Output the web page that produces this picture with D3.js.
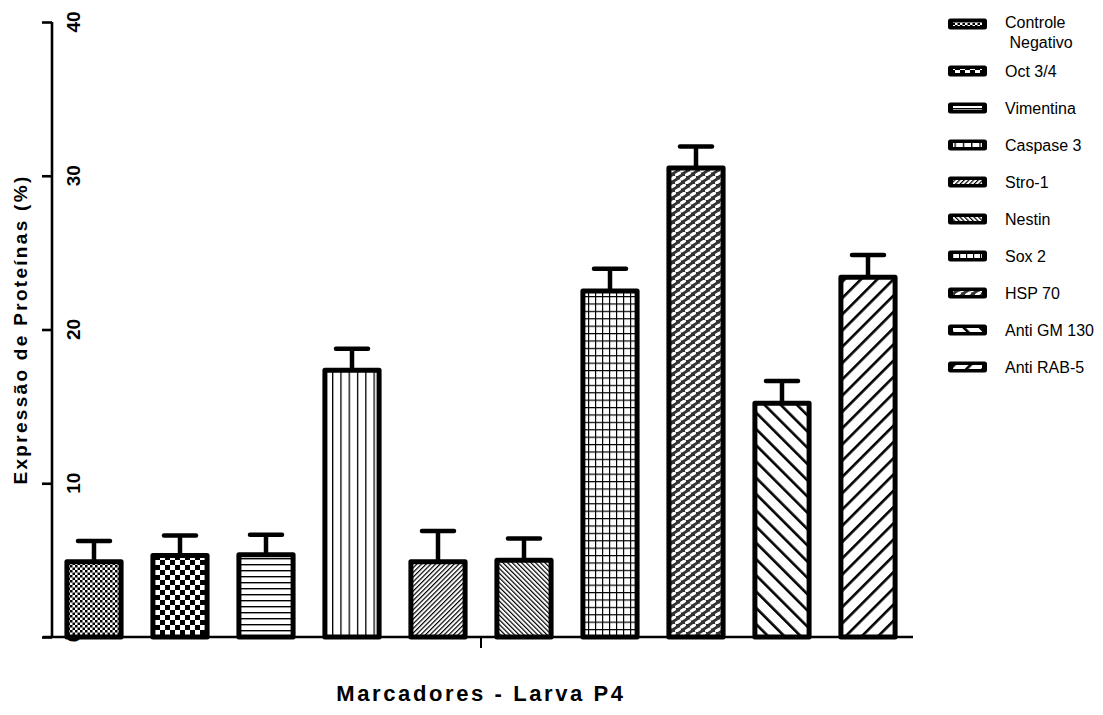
<!DOCTYPE html>
<html>
<head>
<meta charset="utf-8">
<script src="https://cdn.jsdelivr.net/npm/d3@7"></script>
<style>
  html, body { margin: 0; padding: 0; background: #fff; }
  svg { display: block; }
</style>
</head>
<body>
<svg id="chart" width="1103" height="715"></svg>
<script>
// Protein expression by marker, larva P4 (mean and SEM, %)
const categories = ["Controle Negativo", "Oct 3/4", "Vimentina", "Caspase 3", "Stro-1",
                    "Nestin", "Sox 2", "HSP 70", "Anti GM 130", "Anti RAB-5"];
const meanValues = [4.9, 5.3, 5.35, 17.35, 4.9, 5.0, 22.5, 30.5, 15.2, 23.4];
const semValues  = [1.35, 1.3, 1.3, 1.4, 2.0, 1.4, 1.45, 1.4, 1.45, 1.45];
const legendLines = [["Controle", " Negativo"], ["Oct 3/4"], ["Vimentina"], ["Caspase 3"], ["Stro-1"],
                     ["Nestin"], ["Sox 2"], ["HSP 70"], ["Anti GM 130"], ["Anti RAB-5"]];
const yTicks = [0, 10, 20, 30, 40];

const svg = d3.select("#chart");
const FONT = "'Liberation Sans', Arial, Helvetica, sans-serif";

const x = d3.scaleBand().domain(categories).range([51, 911]).paddingInner(0.37).paddingOuter(0.185);
const y = d3.scaleLinear().domain([0, 40]).range([637, 22]);

// ---------- hatch patterns, one per marker ----------
const defs = svg.append("defs");
function pat(id, w, h, rotate, bg) {
  const p = defs.append("pattern").attr("id", id).attr("patternUnits", "userSpaceOnUse")
    .attr("width", w).attr("height", h);
  if (rotate) p.attr("patternTransform", `rotate(${rotate})`);
  p.append("rect").attr("width", w).attr("height", h).attr("fill", bg || "#fff");
  return p;
}
// fine checkerboard
let p = pat("p0", 5, 5);
p.append("rect").attr("width", 2.5).attr("height", 2.5).attr("fill", "#000");
p.append("rect").attr("x", 2.5).attr("y", 2.5).attr("width", 2.5).attr("height", 2.5).attr("fill", "#000");
// coarse checkerboard
p = pat("p1", 10, 10);
p.append("rect").attr("width", 5).attr("height", 5).attr("fill", "#000");
p.append("rect").attr("x", 5).attr("y", 5).attr("width", 5).attr("height", 5).attr("fill", "#000");
// horizontal lines
p = pat("p2", 6, 6);
p.append("rect").attr("y", 0).attr("width", 6).attr("height", 1.4).attr("fill", "#000");
// vertical lines
p = pat("p3", 8.3, 8);
p.append("rect").attr("x", 0).attr("width", 1.3).attr("height", 8).attr("fill", "#000");
// fine forward diagonal
p = pat("p4", 3.3, 10, 45);
p.append("rect").attr("width", 1.2).attr("height", 10).attr("fill", "#000");
// fine backward diagonal
p = pat("p5", 3.3, 10, -45);
p.append("rect").attr("width", 1.2).attr("height", 10).attr("fill", "#000");
// grid
p = pat("p6", 7, 7.4);
p.append("rect").attr("width", 1.2).attr("height", 7.4).attr("fill", "#000");
p.append("rect").attr("width", 7).attr("height", 1.2).attr("fill", "#000");
// weave: short light diagonal strokes on dark, alternate rows offset
p = pat("p7", 10, 8, 0, "#333");
[[1.6, 2.9, 4.4, 1.1], [6.6, 6.9, 9.4, 5.1], [-3.4, 6.9, -0.6, 5.1], [11.6, 2.9, 14.4, 1.1]].forEach(s => {
  p.append("line").attr("x1", s[0]).attr("y1", s[1]).attr("x2", s[2]).attr("y2", s[3])
    .attr("stroke", "#fff").attr("stroke-width", 3.2).attr("stroke-linecap", "round");
});
// wide backward diagonal
p = pat("p8", 11.5, 20, -45);
p.append("rect").attr("width", 2.6).attr("height", 20).attr("fill", "#000");
// wide forward diagonal
p = pat("p9", 11.5, 20, 45);
p.append("rect").attr("width", 2.6).attr("height", 20).attr("fill", "#000");

// ---------- y axis ----------
const yAxis = d3.axisLeft(y).tickValues(yTicks).tickSize(10).tickFormat("");
const gy = svg.append("g").attr("transform", "translate(52,0)").call(yAxis);
gy.select(".domain").attr("stroke", "#000").attr("stroke-width", 2.6).attr("d", `M0,${y(40)}V${y(0)}`);
gy.selectAll(".tick line").attr("stroke", "#000").attr("stroke-width", 2.6);

// rotated tick labels, placed right of the axis
svg.append("g").selectAll("text").data(yTicks).join("text")
  .attr("transform", d => `translate(80,${y(d)}) rotate(-90)`)
  .attr("text-anchor", "middle")
  .attr("font-family", FONT).attr("font-weight", "bold").attr("font-size", 19)
  .text(d => d);

// y title
svg.append("text")
  .attr("transform", `translate(27,${(y(0) + y(40)) / 2}) rotate(-90)`)
  .attr("text-anchor", "middle")
  .attr("font-family", FONT).attr("font-weight", "bold").attr("font-size", 19)
  .attr("letter-spacing", 2.3)
  .text("Expressão de Proteínas (%)");

// ---------- x axis baseline with a single centre tick ----------
svg.append("line").attr("x1", 43).attr("x2", 913).attr("y1", y(0)).attr("y2", y(0))
  .attr("stroke", "#000").attr("stroke-width", 2.6);
const midX = (x(categories[0]) + x(categories[categories.length - 1]) + x.bandwidth()) / 2;
svg.append("line").attr("x1", midX).attr("x2", midX).attr("y1", y(0)).attr("y2", y(0) + 11)
  .attr("stroke", "#000").attr("stroke-width", 2);

svg.append("text")
  .attr("x", midX).attr("y", 701)
  .attr("text-anchor", "middle")
  .attr("font-family", FONT).attr("font-weight", "bold").attr("font-size", 22)
  .attr("letter-spacing", 2.6)
  .text("Marcadores - Larva P4");

// ---------- error bars ----------
const eb = svg.append("g").attr("stroke", "#000").attr("stroke-width", 4.5);
categories.forEach((c, i) => {
  const cx = x(c) + x.bandwidth() / 2;
  const top = y(meanValues[i] + semValues[i]);
  eb.append("line").attr("x1", cx).attr("x2", cx).attr("y1", y(meanValues[i])).attr("y2", top);
  eb.append("line").attr("x1", cx - 16).attr("x2", cx + 16).attr("y1", top).attr("y2", top)
    .attr("stroke-linecap", "round");
});

// ---------- bars ----------
svg.append("g").selectAll("rect").data(categories).join("rect")
  .attr("x", d => x(d))
  .attr("y", (d, i) => y(meanValues[i]))
  .attr("width", x.bandwidth())
  .attr("height", (d, i) => y(0) - y(meanValues[i]))
  .attr("fill", (d, i) => `url(#p${i})`)
  .attr("stroke", "#000").attr("stroke-width", 5).attr("stroke-linejoin", "round");

// ---------- legend ----------
const legendY = i => i === 0 ? 24 : 71 + (i - 1) * 37;
const lg = svg.append("g");
categories.forEach((c, i) => {
  const cy = legendY(i);
  lg.append("rect").attr("x", 948).attr("y", cy - 5.5).attr("width", 39).attr("height", 11)
    .attr("rx", 2.5).attr("fill", "#000");
  lg.append("rect").attr("x", 953).attr("y", cy - 2).attr("width", 29).attr("height", 4)
    .attr("fill", `url(#p${i})`);
  const t = lg.append("text").attr("font-family", FONT).attr("font-size", 16).attr("fill", "#000");
  legendLines[i].forEach((line, k) => {
    t.append("tspan").attr("x", 1005).attr("y", (i === 0 ? 22 : cy) + 5.5 + k * 20)
      .attr("xml:space", "preserve").style("white-space", "pre").text(line);
  });
});
</script>
</body>
</html>
